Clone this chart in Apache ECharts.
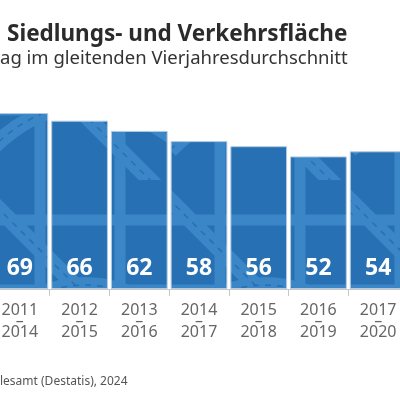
<!DOCTYPE html>
<html>
<head>
<meta charset="utf-8">
<script src="https://cdn.jsdelivr.net/npm/echarts@6/dist/echarts.min.js"></script>
<style>
html, body { margin: 0; padding: 0; background: #fff; overflow: hidden; }
#chart { position: absolute; left: -10px; top: 0; width: 418px; height: 400px; }
</style>
</head>
<body>
<div id="chart"></div>
<script>
var periodStart = [2011, 2012, 2013, 2014, 2015, 2016, 2017];
var periodEnd = [2014, 2015, 2016, 2017, 2018, 2019, 2020];
var hektarProTag = [69, 66, 62, 58, 56, 52, 54];

var categories = periodStart.map(function (s, i) { return s + '\n–\n' + periodEnd[i]; });

// road-map like texture for the bars
function roadPattern() {
    var c = document.createElement('canvas');
    c.width = 180; c.height = 180;
    var g = c.getContext('2d');
    g.fillStyle = '#2670b3';
    g.fillRect(0, 0, 180, 180);
    g.strokeStyle = '#3a86c6';
    g.lineCap = 'butt';
    g.lineWidth = 11;
    g.beginPath();
    g.moveTo(0, 40); g.lineTo(180, 40);
    g.moveTo(0, 110); g.lineTo(180, 110);
    g.moveTo(50, 0); g.lineTo(50, 180);
    g.moveTo(130, 0); g.lineTo(130, 180);
    g.stroke();
    g.lineWidth = 16;
    g.beginPath();
    g.moveTo(-20, 0); g.lineTo(180, 200);
    g.moveTo(0, 150); g.quadraticCurveTo(90, 60, 200, 150);
    g.stroke();
    g.strokeStyle = '#2670b3';
    g.lineWidth = 1.5;
    g.setLineDash([6, 6]);
    g.beginPath();
    g.moveTo(-20, 0); g.lineTo(180, 200);
    g.moveTo(0, 150); g.quadraticCurveTo(90, 60, 200, 150);
    g.stroke();
    return c;
}

var chart = echarts.init(document.getElementById('chart'), null, { renderer: 'canvas' });
var font = '"Noto Sans", sans-serif';

chart.setOption({
    animation: false,
    backgroundColor: '#fff',
    title: [{
        text: 'Siedlungs- und Verkehrsfläche',
        left: 17,
        top: 23,
        padding: 0,
        textStyle: { fontFamily: font, fontSize: 22.5, fontWeight: 'bold', color: '#2b2b2b' }
    }, {
        text: 'ag im gleitenden Vierjahresdurchschnitt',
        left: 10,
        top: 49,
        padding: 0,
        textStyle: { fontFamily: font, fontSize: 18.5, fontWeight: 'normal', color: '#333' }
    }],
    graphic: [{
        type: 'text',
        left: 10,
        top: 376,
        style: { text: 'lesamt (Destatis), 2024', font: '12px "Noto Sans", sans-serif', fill: '#555' }
    }],
    grid: { left: 0, right: 0, top: 85, bottom: 111, containLabel: false },
    xAxis: {
        type: 'category',
        data: categories,
        axisLine: { lineStyle: { color: '#c8c8c8', width: 1 } },
        axisTick: { show: true, length: 7, lineStyle: { color: '#c8c8c8' } },
        axisLabel: {
            interval: 0,
            margin: 16,
            fontFamily: font,
            fontSize: 16,
            lineHeight: 11,
            color: '#666'
        }
    },
    yAxis: { type: 'value', min: 0, max: 80, show: false, splitLine: { show: false } },
    series: [{
        type: 'bar',
        data: hektarProTag,
        barCategoryGap: '5%',
        itemStyle: {
            color: { image: roadPattern(), repeat: 'repeat' },
            borderColor: '#b3cbe3',
            borderWidth: 1
        },
        label: {
            show: true,
            position: 'insideBottom',
            distance: 9,
            fontFamily: font,
            fontSize: 23,
            fontWeight: 'bold',
            color: '#fff'
        }
    }]
});
</script>
</body>
</html>
